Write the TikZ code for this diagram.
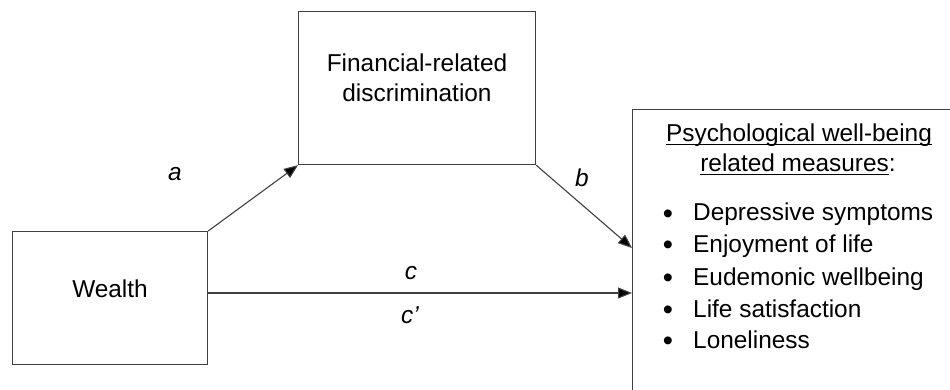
\documentclass[tikz,border=0pt]{standalone}
\usepackage{fontspec}
\setmainfont{Liberation Sans}
\usetikzlibrary{arrows.meta}
\newsavebox\ulbox
\newcommand\myul[1]{\sbox\ulbox{#1}\rlap{\rule[-3pt]{\wd\ulbox}{1.1pt}}\usebox\ulbox}
\definecolor{linegray}{HTML}{404040}
\tikzset{
  box/.style={draw=linegray, line width=1.2pt, inner sep=0pt, fill=none},
  txt/.style={font=\fontsize{24.4}{28}\selectfont, anchor=base, inner sep=0pt},
  itm/.style={font=\fontsize{24.4}{28}\selectfont, anchor=base west, inner sep=0pt},
  bul/.style={font=\fontsize{29}{30}\selectfont, anchor=base, inner sep=0pt},
  lbl/.style={font=\fontsize{24.4}{28}\selectfont\itshape, anchor=base, inner sep=0pt},
  arr/.style={draw=linegray, line width=1.1pt, -{Triangle[length=14pt,width=11pt,fill=black]}}
}
\begin{document}
\begin{tikzpicture}[x=1pt,y=-1pt]
\useasboundingbox (0,0) rectangle (950,390);
\clip (0,0) rectangle (950,390);
\fill[white] (0,0) rectangle (950,390);
% boxes
\node[box, minimum width=195, minimum height=133, anchor=north west] (wealth) at (12,231) {};
\node[box, minimum width=237, minimum height=153, anchor=north west] (fin) at (298,11) {};
\node[box, minimum width=340, minimum height=300, anchor=north west] (psy) at (632,109) {};
% texts
\node[txt] (wt) at (110,297.5) {Wealth};
\node[txt] (f1) at (417,72) {Financial-related};
\node[txt] (f2) at (417,102) {discrimination};
\node[txt] (h1) at (799,142) {\myul{Psychological well-being}};
\node[txt] (h2) at (798,172) {\myul{related measures}:};
\node[itm] (i1) at (693,221) {Depressive symptoms};
\node[itm] (i2) at (693,252) {Enjoyment of life};
\node[itm] (i3) at (693,285) {Eudemonic wellbeing};
\node[itm] (i4) at (693,317) {Life satisfaction};
\node[itm] (i5) at (693,348) {Loneliness};
\foreach \n/\y in {b1/223.5,b2/254.5,b3/287.5,b4/319.5,b5/350.5}
  \node[bul] (\n) at (668,\y) {\textbullet};
% connector ends
\coordinate (bEnd) at (632,248);
\coordinate (cStart) at (207,293);
\coordinate (cEnd) at (632,293);
% arrows
\draw[arr] (wealth.north east) -- (fin.south west);
\draw[arr] (fin.south east) -- (bEnd);
\draw[arr] (cStart) -- (cEnd);
% labels
\node[lbl] (la) at (175,181) {a};
\node[lbl] (lb) at (582,186) {b};
\node[lbl] (lc) at (411,279) {c};
\node[lbl] (lc2) at (410,323) {c’};
\end{tikzpicture}
\end{document}
